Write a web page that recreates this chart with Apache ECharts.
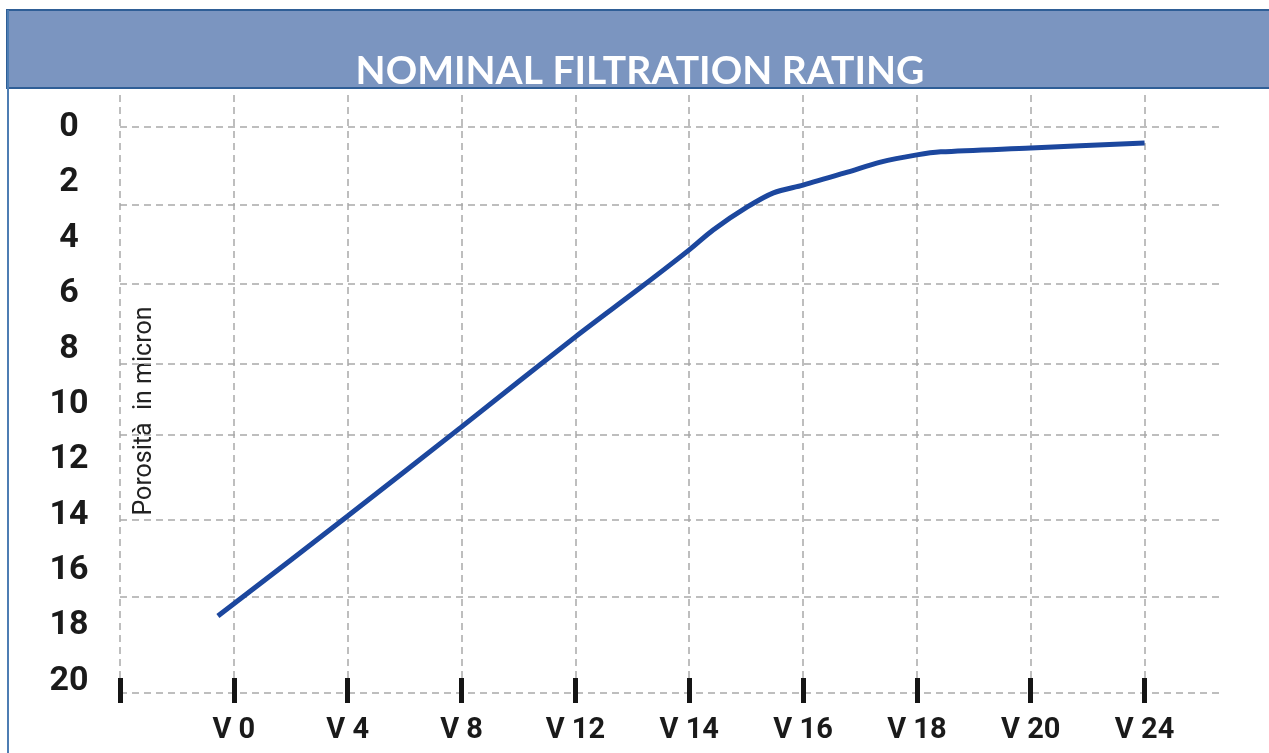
<!DOCTYPE html>
<html lang="en">
<head>
    <meta charset="UTF-8">
    <title>Nominal filtration rating</title>
    <style>
        html, body {
            margin: 0;
            padding: 0;
            background: #ffffff;
        }
        #main {
            width: 1269px;
            height: 753px;
        }
    </style>
    <script type="text/javascript" src="https://cdn.jsdelivr.net/npm/echarts@6/dist/echarts.min.js"></script>
</head>
<body>
<div id="main"></div>
<script type="text/javascript">
    // grades on the x axis, index 0 is the empty first column
    var grades = ['', 'V 0', 'V 4', 'V 8', 'V 12', 'V 14', 'V 16', 'V 18', 'V 20', 'V 24'];
    var gradeTicks = [0, 1, 2, 3, 4, 5, 6, 7, 8, 9];
    var gradeLabels = [1, 2, 3, 4, 5, 6, 7, 8, 9];
    // porosity labels and the (irregular) dashed grid lines of the original
    var micronLabels = [0, 2, 4, 6, 8, 10, 12, 14, 16, 18, 20];
    var micronGrid = [0.14, 2.96, 5.84, 8.70, 11.26, 14.33, 17.11, 20.6];
    // curve
    var gradePos = [0.86, 2, 3, 4, 4.57, 5, 5.21, 5.51, 5.74, 6, 6.39, 6.68, 7, 7.21, 8, 9];
    var porosity = [17.82, 14.21, 10.99, 7.74, 5.97, 4.60, 3.88, 3.05, 2.54, 2.26, 1.79, 1.43, 1.17, 1.06, 0.92, 0.74];

    var chart = echarts.init(document.getElementById('main'));
    var gridLine = {
        show: true,
        lineStyle: {color: '#a9a9a9', width: 1.5, type: [7, 5]}
    };
    var option = {
        animation: false,
        graphic: [
            {
                type: 'rect',
                shape: {x: 7, y: 10, width: 1264, height: 78},
                style: {fill: '#7b95c0', stroke: '#2f5e96', lineWidth: 2}
            },
            {
                type: 'line',
                shape: {x1: 8, y1: 10, x2: 8, y2: 753},
                style: {stroke: '#4d7db3', lineWidth: 2}
            },
            {
                type: 'text',
                x: 640,
                y: 71,
                style: {
                    text: 'NOMINAL FILTRATION RATING',
                    fill: '#ffffff',
                    fontFamily: 'Lato',
                    fontWeight: 'bold',
                    fontSize: 39,
                    align: 'center',
                    verticalAlign: 'middle'
                }
            },
            {
                type: 'text',
                x: 145,
                y: 411,
                rotation: Math.PI / 2,
                style: {
                    text: 'Porosità  in micron',
                    fill: '#222222',
                    fontFamily: 'Roboto',
                    fontSize: 25,
                    align: 'center',
                    verticalAlign: 'middle'
                }
            }
        ],
        grid: {left: 120, right: 47, top: 95, bottom: 60},
        xAxis: {
            type: 'value',
            min: 0,
            max: 9.68,
            offset: -15,
            axisLine: {show: false, onZero: false},
            axisTick: {
                show: true,
                length: 25,
                customValues: gradeTicks,
                lineStyle: {color: '#151515', width: 5}
            },
            axisLabel: {
                customValues: gradeLabels,
                margin: 38,
                fontFamily: 'Roboto',
                fontWeight: 'bold',
                fontSize: 29,
                color: '#1a1a1a',
                formatter: function (v) {
                    return grades[Math.round(v)] || '';
                }
            },
            splitLine: gridLine
        },
        yAxis: {
            type: 'value',
            inverse: true,
            min: -0.993,
            max: 20.6,
            axisLine: {show: false},
            axisTick: {show: false, customValues: micronGrid},
            axisLabel: {
                customValues: micronLabels,
                align: 'center',
                margin: 51,
                formatter: function (v) {
                    return '{n|' + v + '}';
                },
                rich: {
                    n: {
                        padding: [10, 0, 0, 0],
                        fontFamily: 'Roboto',
                        fontWeight: 'bold',
                        fontSize: 34,
                        color: '#1a1a1a'
                    }
                }
            },
            splitLine: gridLine
        },
        series: [{
            type: 'line',
            data: gradePos.map(function (x, i) { return [x, porosity[i]]; }),
            smooth: 0.3,
            showSymbol: false,
            lineStyle: {color: '#1c479e', width: 5}
        }]
    };
    chart.setOption(option);
</script>
</body>
</html>
